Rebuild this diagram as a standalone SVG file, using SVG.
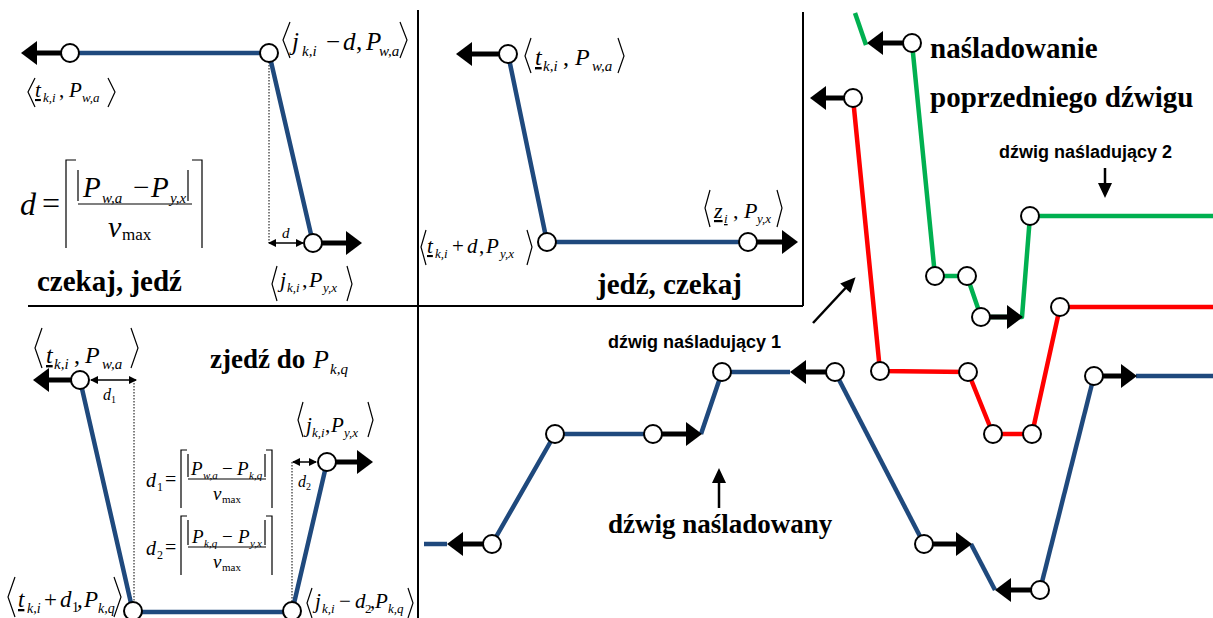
<svg xmlns="http://www.w3.org/2000/svg" width="1213" height="618" viewBox="0 0 1213 618">
<style>
.blue{stroke:#1F497D;stroke-width:4.5;fill:none;stroke-linejoin:round}
.red{stroke:#FF0000;stroke-width:4.5;fill:none;stroke-linejoin:round}
.green{stroke:#00B050;stroke-width:4.5;fill:none;stroke-linejoin:round}
.nd{fill:#fff;stroke:#000;stroke-width:2}
.ar{stroke:#000;stroke-width:5;fill:none;marker-end:url(#ah)}
.tar{stroke:#000;stroke-width:2.5;fill:none;marker-end:url(#mh)}
.dbl{stroke:#000;stroke-width:1.5;fill:none;marker-start:url(#sh);marker-end:url(#sh)}
.dot{stroke:#000;stroke-width:1;stroke-dasharray:1.5 1.5;fill:none}
.br{fill:none;stroke:#000;stroke-width:1.2}
.frame{stroke:#000;stroke-width:2;fill:none}
.m{font-family:"Liberation Serif","DejaVu Serif",serif;font-style:italic;fill:#000}
.n{font-style:normal}
.u{text-decoration:underline}
.b{font-family:"Liberation Serif","DejaVu Serif",serif;font-weight:700;fill:#000}
.c{font-family:"Liberation Sans",sans-serif;font-weight:700;fill:#000}
</style>
<defs>
<marker id="ah" markerUnits="userSpaceOnUse" markerWidth="17" markerHeight="24" refX="1" refY="12" orient="auto" overflow="visible"><path d="M0,0 L16,12 L0,24 z" fill="#000"/></marker>
<marker id="mh" markerUnits="userSpaceOnUse" markerWidth="16" markerHeight="14" refX="1" refY="7" orient="auto" overflow="visible"><path d="M0,0 L15,7 L0,14 z" fill="#000"/></marker>
<marker id="sh" markerUnits="userSpaceOnUse" markerWidth="8" markerHeight="8" refX="7" refY="4" orient="auto-start-reverse" overflow="visible"><path d="M0,0 L8,4 L0,8 z" fill="#000"/></marker>
</defs>

<g id="frames">
<line class="frame" x1="418" y1="10" x2="418" y2="618"/>
<line class="frame" x1="28" y1="306" x2="803" y2="306"/>
<line class="frame" x1="803" y1="12" x2="803" y2="306"/>
</g>

<g id="connectors">
<line class="dot" x1="269" y1="62" x2="269" y2="243"/>
<line class="dot" x1="134" y1="380" x2="134" y2="604"/>
<line class="dot" x1="292" y1="462" x2="292" y2="604"/>
<line class="dbl" x1="269" y1="243" x2="303" y2="243"/>
<line class="dbl" x1="91" y1="380" x2="136" y2="380"/>
<line class="dbl" x1="293" y1="462" x2="316" y2="462"/>
<polyline class="blue" points="70,53 269,53 313,243"/>
<polyline class="blue" points="508,54 547,242 748,242"/>
<polyline class="blue" points="80,380 133,612 292,612 327,462"/>
<line class="blue" x1="424" y1="544" x2="447" y2="544"/>
<polyline class="blue" points="492,544 555,434 653,434"/>
<polyline class="blue" points="701,434 722,372 790,372"/>
<polyline class="blue" points="835,372 924,544"/>
<polyline class="blue" points="971,544 995,590"/>
<polyline class="blue" points="1040,590 1094,376"/>
<line class="blue" x1="1136" y1="376" x2="1213" y2="376"/>
<polyline class="red" points="853,98 880,371 968,372 993,434 1032,434 1060,307 1213,307"/>
<line class="green" x1="855" y1="13" x2="866" y2="45"/>
<polyline class="green" points="912,43 935,276 967,276 981,317 1022,317 1030,216 1213,216"/>
<line class="ar" x1="61" y1="53" x2="36" y2="53"/>
<line class="ar" x1="322" y1="243" x2="347" y2="243"/>
<line class="ar" x1="499" y1="54" x2="471" y2="54"/>
<line class="ar" x1="757" y1="242" x2="783" y2="242"/>
<line class="ar" x1="71" y1="380" x2="48" y2="380"/>
<line class="ar" x1="336" y1="462" x2="358" y2="462"/>
<line class="ar" x1="903" y1="43" x2="882" y2="43"/>
<line class="ar" x1="844" y1="98" x2="825" y2="98"/>
<line class="ar" x1="990" y1="317" x2="1008" y2="317"/>
<line class="ar" x1="826" y1="372" x2="805" y2="372"/>
<line class="ar" x1="1103" y1="376" x2="1122" y2="376"/>
<line class="ar" x1="933" y1="544" x2="957" y2="544"/>
<line class="ar" x1="1031" y1="590" x2="1010" y2="590"/>
<line class="ar" x1="662" y1="434" x2="687" y2="434"/>
<line class="ar" x1="483" y1="544" x2="462" y2="544"/>
<line class="tar" x1="813" y1="323" x2="846" y2="287.5"/>
<line class="tar" x1="1105" y1="168" x2="1105" y2="184"/>
<line class="tar" x1="719" y1="508" x2="719" y2="482"/>
</g>

<g id="nodes">
<circle id="n1" class="nd" cx="70" cy="53" r="9"/>
<circle id="n2" class="nd" cx="269" cy="53" r="9"/>
<circle id="n3" class="nd" cx="313" cy="243" r="9"/>
<circle id="n4" class="nd" cx="508" cy="54" r="9"/>
<circle id="n5" class="nd" cx="547" cy="242" r="9"/>
<circle id="n6" class="nd" cx="748" cy="242" r="9"/>
<circle id="n7" class="nd" cx="80" cy="380" r="9"/>
<circle id="n8" class="nd" cx="133" cy="611" r="9"/>
<circle id="n9" class="nd" cx="292" cy="611" r="9"/>
<circle id="n10" class="nd" cx="327" cy="462" r="9"/>
<circle id="b1" class="nd" cx="492" cy="544" r="9"/>
<circle id="b2" class="nd" cx="555" cy="434" r="9"/>
<circle id="b3" class="nd" cx="653" cy="434" r="9"/>
<circle id="b4" class="nd" cx="722" cy="372" r="9"/>
<circle id="b5" class="nd" cx="835" cy="372" r="9"/>
<circle id="b6" class="nd" cx="924" cy="544" r="9"/>
<circle id="b7" class="nd" cx="1040" cy="590" r="9"/>
<circle id="b8" class="nd" cx="1094" cy="376" r="9"/>
<circle id="r1" class="nd" cx="853" cy="98" r="9"/>
<circle id="r2" class="nd" cx="880" cy="371" r="9"/>
<circle id="r3" class="nd" cx="968" cy="372" r="9"/>
<circle id="r4" class="nd" cx="993" cy="434" r="9"/>
<circle id="r5" class="nd" cx="1032" cy="434" r="9"/>
<circle id="r6" class="nd" cx="1060" cy="307" r="9"/>
<circle id="g1" class="nd" cx="912" cy="43" r="9"/>
<circle id="g2" class="nd" cx="935" cy="276" r="9"/>
<circle id="g3" class="nd" cx="967" cy="276" r="9"/>
<circle id="g4" class="nd" cx="981" cy="317" r="9"/>
<circle id="g5" class="nd" cx="1030" cy="216" r="9"/>
</g>

<g id="labels">
<polyline class="br" points="290,22 283,40 290,58"/><polyline class="br" points="400,22 407,40 400,58"/>
<text class="m" font-size="25"><tspan x="292" y="50">j</tspan><tspan x="302" y="56" font-size="15">k,i</tspan><tspan x="326" y="50" class="n">−</tspan><tspan x="343" y="50">d</tspan><tspan x="356" y="50" class="n">,</tspan><tspan x="366" y="50">P</tspan><tspan x="379" y="56" font-size="15">w,a</tspan></text>
<polyline class="br" points="35,78 28,92 35,107"/><polyline class="br" points="108,78 115,92 108,107"/>
<text class="m" font-size="21"><tspan x="35" y="97" class="u">t</tspan><tspan x="43" y="102" font-size="13">k,i</tspan><tspan x="59" y="97" class="n">,</tspan><tspan x="69" y="97">P</tspan><tspan x="82" y="102" font-size="13">w,a</tspan></text>
<polyline class="br" points="277,266 272,284 277,301"/><polyline class="br" points="347,266 352,284 347,301"/>
<text class="m" font-size="22"><tspan x="280" y="287">j</tspan><tspan x="287" y="292" font-size="13">k,i</tspan><tspan x="302" y="287" class="n">,</tspan><tspan x="309" y="287">P</tspan><tspan x="323" y="292" font-size="13">y,x</tspan></text>
<polyline class="br" points="531,38 525,56 531,73"/><polyline class="br" points="618,38 624,56 618,73"/>
<text class="m" font-size="24"><tspan x="535" y="65" class="u">t</tspan><tspan x="543" y="71" font-size="15">k,i</tspan><tspan x="563" y="65" class="n">,</tspan><tspan x="575" y="65">P</tspan><tspan x="592" y="71" font-size="15">w,a</tspan></text>
<polyline class="br" points="710,190 705,208 710,227"/><polyline class="br" points="777,190 782,208 777,227"/>
<text class="m" font-size="22"><tspan x="714" y="218" class="u">z</tspan><tspan x="724" y="223" font-size="13" class="u">i</tspan><tspan x="733" y="218" class="n">,</tspan><tspan x="744" y="218">P</tspan><tspan x="757" y="223" font-size="13">y,x</tspan></text>
<polyline class="br" points="426,230 421,247 426,265"/><polyline class="br" points="527,230 532,247 527,265"/>
<text class="m" font-size="21"><tspan x="427" y="253" class="u">t</tspan><tspan x="435" y="258" font-size="13">k,i</tspan><tspan x="452" y="253" class="n">+</tspan><tspan x="467" y="253">d</tspan><tspan x="479" y="253" class="n">,</tspan><tspan x="486" y="253">P</tspan><tspan x="500" y="258" font-size="13">y,x</tspan></text>
<polyline class="br" points="42,328 35,348 42,368"/><polyline class="br" points="131,328 138,348 131,368"/>
<text class="m" font-size="24"><tspan x="46" y="363" class="u">t</tspan><tspan x="54" y="369" font-size="15">k,i</tspan><tspan x="74" y="363" class="n">,</tspan><tspan x="85" y="363">P</tspan><tspan x="102" y="369" font-size="15">w,a</tspan></text>
<polyline class="br" points="303,402 298,420 303,437"/><polyline class="br" points="368,402 373,420 368,437"/>
<text class="m" font-size="21"><tspan x="306" y="432">j</tspan><tspan x="312" y="437" font-size="13">k,i</tspan><tspan x="325" y="432" class="n">,</tspan><tspan x="331" y="432">P</tspan><tspan x="344" y="437" font-size="13">y,x</tspan></text>
<polyline class="br" points="15,577 8,597 15,617"/><polyline class="br" points="114,577 121,597 114,617"/>
<text class="m" font-size="23"><tspan x="18" y="607" class="u">t</tspan><tspan x="27" y="613" font-size="14">k,i</tspan><tspan x="44" y="607" class="n">+</tspan><tspan x="60" y="607">d</tspan><tspan x="72" y="612" font-size="14" class="n">1</tspan><tspan x="77" y="607" class="n">,</tspan><tspan x="84" y="607">P</tspan><tspan x="98" y="613" font-size="14">k,q</tspan></text>
<polyline class="br" points="312,588 307,603 312,618"/><polyline class="br" points="408,588 413,603 408,618"/>
<text class="m" font-size="21"><tspan x="315" y="608">j</tspan><tspan x="322" y="613" font-size="13">k,i</tspan><tspan x="339" y="608" class="n">−</tspan><tspan x="355" y="608">d</tspan><tspan x="365" y="613" font-size="13" class="n">2</tspan><tspan x="370" y="608" class="n">,</tspan><tspan x="375" y="608">P</tspan><tspan x="388" y="613" font-size="13">k,q</tspan></text>

<text class="m" font-size="15" x="282" y="238">d</text>
<text class="m" font-size="16"><tspan x="103" y="400">d</tspan><tspan x="111" y="403" font-size="10" class="n">1</tspan></text>
<text class="m" font-size="16"><tspan x="298" y="487">d</tspan><tspan x="306" y="490" font-size="10" class="n">2</tspan></text>

<text class="m" font-size="32"><tspan x="20" y="215">d</tspan><tspan x="42" y="214" class="n">=</tspan></text>
<polyline class="br" points="76,160 66,160 66,248"/><polyline class="br" points="192,160 202,160 202,248"/>
<line class="br" x1="78" y1="170" x2="78" y2="201"/><line class="br" x1="188" y1="170" x2="188" y2="201"/>
<line class="br" x1="78" y1="204" x2="192" y2="204"/>
<text class="m" font-size="29"><tspan x="83" y="197">P</tspan><tspan x="102" y="203" font-size="15">w,a</tspan><tspan x="133" y="197" class="n">−</tspan><tspan x="151" y="197">P</tspan><tspan x="170" y="203" font-size="15">y,x</tspan></text>
<text class="m" font-size="30"><tspan x="108" y="237">v</tspan><tspan x="122" y="240" font-size="17" class="n">max</tspan></text>

<text class="m" font-size="20"><tspan x="146" y="487">d</tspan><tspan x="157" y="491" font-size="12" class="n">1</tspan><tspan x="165" y="486" class="n">=</tspan></text>
<polyline class="br" points="187,450 181,450 181,508"/><polyline class="br" points="266,450 272,450 272,508"/>
<line class="br" x1="188" y1="454" x2="188" y2="477"/><line class="br" x1="265" y1="454" x2="265" y2="477"/>
<line class="br" x1="188" y1="479" x2="266" y2="479"/>
<text class="m" font-size="19"><tspan x="191" y="475">P</tspan><tspan x="203" y="479" font-size="11">w,a</tspan><tspan x="222" y="475" class="n">−</tspan><tspan x="237" y="475">P</tspan><tspan x="249" y="479" font-size="11">k,q</tspan></text>
<text class="m" font-size="19"><tspan x="213" y="500">v</tspan><tspan x="222" y="503" font-size="11" class="n">max</tspan></text>

<text class="m" font-size="20"><tspan x="146" y="555">d</tspan><tspan x="157" y="559" font-size="12" class="n">2</tspan><tspan x="165" y="554" class="n">=</tspan></text>
<polyline class="br" points="187,516 181,516 181,575"/><polyline class="br" points="266,516 272,516 272,575"/>
<line class="br" x1="188" y1="520" x2="188" y2="545"/><line class="br" x1="265" y1="520" x2="265" y2="545"/>
<line class="br" x1="188" y1="547" x2="266" y2="547"/>
<text class="m" font-size="19"><tspan x="192" y="543">P</tspan><tspan x="204" y="547" font-size="11">k,q</tspan><tspan x="222" y="543" class="n">−</tspan><tspan x="238" y="543">P</tspan><tspan x="250" y="547" font-size="11">y,x</tspan></text>
<text class="m" font-size="19"><tspan x="213" y="568">v</tspan><tspan x="222" y="571" font-size="11" class="n">max</tspan></text>

<text class="b" font-size="29" x="37" y="291">czekaj, jedź</text>
<text class="b" font-size="29" x="597" y="294">jedź, czekaj</text>
<text font-size="27"><tspan class="b" x="210" y="368">zjedź do</tspan><tspan class="m" x="313" y="368" font-size="26">P</tspan><tspan class="m" x="330" y="374" font-size="15">k,q</tspan></text>
<text class="b" font-size="29" x="930" y="58">naśladowanie</text>
<text class="b" font-size="29" x="930" y="107">poprzedniego dźwigu</text>
<text class="c" font-size="18" x="999" y="158">dźwig naśladujący 2</text>
<text class="c" font-size="18" x="608" y="348">dźwig naśladujący 1</text>
<text class="b" font-size="27" x="608" y="533">dźwig naśladowany</text>
</g>
</svg>
